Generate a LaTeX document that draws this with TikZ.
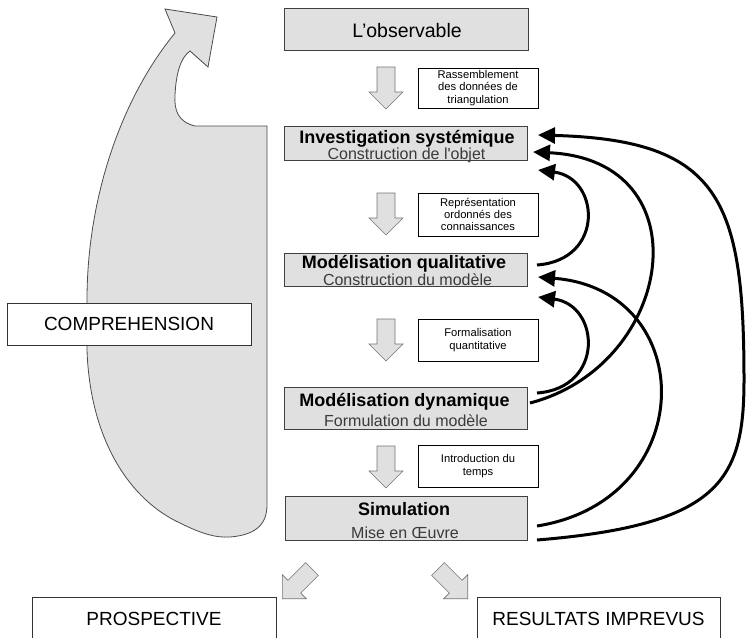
\documentclass[tikz,border=0pt]{standalone}
\usepackage{fontspec}
\setmainfont{Liberation Sans}
\usetikzlibrary{arrows.meta}
\definecolor{panel}{HTML}{E0E0E0}
\definecolor{subtext}{HTML}{3A3A3A}
\begin{document}
\begin{tikzpicture}[x=1pt,y=-1pt,
  mainbox/.style={draw=black!75, line width=0.8pt, fill=panel, inner sep=0pt},
  notebox/.style={draw=black, line width=0.7pt, fill=white, minimum width=120pt,
    inner sep=0pt, align=center, font=\fontsize{11.2}{12.3}\selectfont},
  bigbox/.style={draw=black!80, line width=0.8pt, fill=white, inner sep=0pt,
    font=\fontsize{19}{19}\selectfont},
  titletext/.style={anchor=base, inner sep=0pt, font=\fontsize{18}{18}\selectfont\bfseries},
  subtitletext/.style={anchor=base, inner sep=0pt, text=subtext, font=\fontsize{16}{16}\selectfont},
  blob/.style={draw=black!70, line width=0.8pt, fill=panel},
  loop/.style={line width=3pt, -{Triangle[length=17pt,width=16pt]}},
  blockarrow/.pic={
    \path[draw=black!55, line width=0.6pt, fill=panel]
      (-9,0) -- (9,0) -- (9,25) -- (17,25) -- (0,42) -- (-17,25) -- (-9,25) -- cycle;
  }
]
\useasboundingbox (0,0) rectangle (746,637);
\clip (0,0) rectangle (746,637);

% understanding loop: large shape rising on the left
\path[blob]
  (267,126) -- (195,126)
  .. controls (178,122) and (174,110) .. (175,95)
  .. controls (176,75) and (180,58) .. (190,51)
  -- (208,67) -- (217,17) -- (165,9) -- (175,33)
  .. controls (120,100) and (87,200) .. (87,300)
  -- (87,350)
  .. controls (90,440) and (130,500) .. (180,523)
  .. controls (200,533) and (215,538) .. (230,537)
  .. controls (255,535) and (267,525) .. (267,505)
  -- cycle;

\node[bigbox, minimum width=244pt, minimum height=42pt] (comp) at (129,324) {COMPREHENSION};

% main chain of stages
\node[mainbox, minimum width=244pt, minimum height=42pt] (obs) at (406,29) {};
\node[anchor=base, inner sep=0pt, font=\fontsize{19.5}{19.5}\selectfont] (obs-t) at (407,37) {L’observable};

\node[mainbox, minimum width=243pt, minimum height=34pt] (inv) at (405.5,143) {};
\node[titletext] (inv-t) at (407,143) {Investigation systémique};
\node[subtitletext] (inv-s) at (406.5,159.5) {Construction de l\textquotesingle objet};

\node[mainbox, minimum width=243pt, minimum height=33pt] (qual) at (405.5,269.5) {};
\node[titletext] (qual-t) at (404,268.5) {Modélisation qualitative};
\node[subtitletext] (qual-s) at (407.5,285) {Construction du modèle};

\node[mainbox, minimum width=243pt, minimum height=42pt] (dyn) at (405.5,408) {};
\node[titletext] (dyn-t) at (404.5,406.5) {Modélisation dynamique};
\node[subtitletext] (dyn-s) at (406,426) {Formulation du modèle};

\node[mainbox, minimum width=242pt, minimum height=44pt] (sim) at (406,518) {};
\node[titletext] (sim-t) at (404,515) {Simulation};
\node[subtitletext] (sim-s) at (405,538) {Mise en Œuvre};

% transitions between stages
\pic at (386,67) {blockarrow};
\pic at (386,193) {blockarrow};
\pic at (386,319) {blockarrow};
\pic at (386,446) {blockarrow};

\node[notebox, minimum height=40pt] (n1) at (478,88) {Rassemblement\\des données de\\triangulation};
\node[notebox, minimum height=43pt] (n2) at (478,214.5) {Représentation\\ordonnés des\\connaissances};
\node[notebox, minimum height=42pt] (n3) at (478,340) {Formalisation\\quantitative};
\node[notebox, minimum height=42pt] (n4) at (478,466) {Introduction du\\temps};

% outcomes
\pic[rotate=-45] at (312,569) {blockarrow};
\pic[rotate=45] at (438,569) {blockarrow};
\node[bigbox, minimum width=244pt, minimum height=43pt, anchor=north] (pros) at (154,597) {PROSPECTIVE};
\node[bigbox, minimum width=243pt, minimum height=43pt, anchor=north] (res) at (598.5,597) {RESULTATS IMPREVUS};

% feedback loops
\coordinate (inv-in1) at (538,135);
\coordinate (inv-in2) at (533,152);
\coordinate (inv-in3) at (538,170);
\coordinate (qual-in1) at (538,277);
\coordinate (qual-in2) at (538,297);
\coordinate (qual-out) at (537,265);
\coordinate (dyn-out1) at (537,393);
\coordinate (dyn-out2) at (530,403);
\coordinate (sim-out1) at (537,526);
\coordinate (sim-out2) at (537,540);

\draw[loop] (qual-out) .. controls (605,260) and (600,178) .. (inv-in3);
\draw[loop] (dyn-out1) .. controls (605,388) and (600,305) .. (qual-in2);
\draw[loop] (dyn-out2) .. controls (675,365) and (705,160) .. (inv-in2);
\draw[loop] (sim-out1) .. controls (700,500) and (700,290) .. (qual-in1);
\draw[loop] (sim-out2) .. controls (720,525) and (744,480) .. (744,380)
  .. controls (744,200) and (720,140) .. (inv-in1);
\end{tikzpicture}
\end{document}
